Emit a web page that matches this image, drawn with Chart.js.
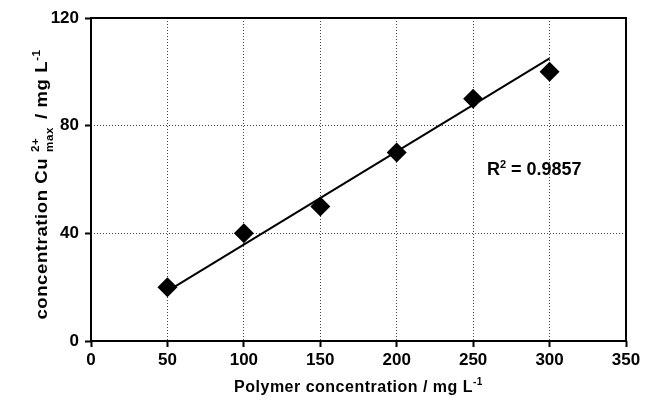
<!DOCTYPE html>
<html>
<head>
<meta charset="utf-8">
<script src="https://cdn.jsdelivr.net/npm/chart.js@4/dist/chart.umd.min.js"></script>
<style>
  html, body { margin: 0; padding: 0; background: #ffffff; }
  #wrap { width: 651px; height: 401px; }
</style>
</head>
<body>
<div id="wrap"><canvas id="cuChart" width="651" height="401"></canvas></div>
<script>
// ================================================================
//  DATA
// ================================================================
const polymerConc = [50, 100, 150, 200, 250, 300];   // mg L-1
const cuMax       = [20, 40, 50, 70, 90, 100];       // mg L-1
// linear trendline end points
const trendX = [50, 300];
const trendY = [18.5, 105];
const xTickValues = [0, 50, 100, 150, 200, 250, 300, 350];
const yTickValues = [0, 40, 80, 120];
const r2Text = '0.9857';

const FONT = "'Liberation Sans', Arial, Helvetica, sans-serif";

// ================================================================
//  DRAW HELPERS
// ================================================================
// draws a run of text pieces; dy shifts baseline (negative = up)
function drawRun(ctx, pieces, x, y) {
  let cx = x;
  pieces.forEach(p => {
    ctx.font = 'bold ' + p.size + 'px ' + FONT;
    if (p.stack) {
      // superscript and subscript stacked on the same x
      const w1 = ctx.measureText(p.sup).width, w2 = ctx.measureText(p.sub).width;
      ctx.fillText(p.sup, cx, y + p.supDy);
      ctx.fillText(p.sub, cx, y + p.subDy);
      cx += Math.max(w1, w2) + 2;
      return;
    }
    ctx.fillText(p.t, cx, y + (p.dy || 0));
    cx += ctx.measureText(p.t).width;
  });
  return cx - x;
}

function runWidth(ctx, pieces) {
  let w = 0;
  pieces.forEach(p => {
    ctx.font = 'bold ' + p.size + 'px ' + FONT;
    if (p.stack) w += Math.max(ctx.measureText(p.sup).width, ctx.measureText(p.sub).width) + 2;
    else w += ctx.measureText(p.t).width;
  });
  return w;
}

const xTitle = [
  { t: 'Polymer concentration / mg L', size: 16 },
  { t: '-1', size: 10, dy: -7 }
];
const yTitle = [
  { t: 'concentration Cu ', size: 16 },
  { stack: true, sup: '2+', sub: 'max', size: 10, supDy: -8, subDy: 6 },
  { t: ' / mg L', size: 16 },
  { t: '-1', size: 10, dy: -7 }
];
const r2Pieces = [
  { t: 'R', size: 18 },
  { t: '2', size: 11, dy: -7 },
  { t: ' = ' + r2Text, size: 18 }
];

const framePlugin = {
  id: 'frame',
  beforeDatasetsDraw(chart) {
    const { ctx, chartArea: a } = chart;
    ctx.save();
    ctx.strokeStyle = '#000000';
    ctx.lineWidth = 2;
    ctx.strokeRect(a.left, a.top, a.right - a.left, a.bottom - a.top);
    ctx.restore();
  },
  afterDraw(chart) {
    const { ctx, chartArea: a, scales } = chart;
    ctx.save();
    ctx.fillStyle = '#000000';
    ctx.textBaseline = 'alphabetic';
    ctx.textAlign = 'left';
    ctx.letterSpacing = '0.5px';

    // x title
    const wx = runWidth(ctx, xTitle);
    drawRun(ctx, xTitle, (a.left + a.right) / 2 - wx / 2, 392);

    // y title (rotated, a bit stretched along its length like the source)
    const wy = runWidth(ctx, yTitle);
    ctx.translate(47, (a.top + a.bottom) / 2 + 5);
    ctx.rotate(-Math.PI / 2);
    ctx.scale(1.16, 1);
    drawRun(ctx, yTitle, -wy / 2, 0);
    ctx.restore();

    // R² label
    ctx.save();
    ctx.fillStyle = '#000000';
    ctx.textBaseline = 'alphabetic';
    drawRun(ctx, r2Pieces, scales.x.getPixelForValue(259), scales.y.getPixelForValue(61.5));
    ctx.restore();
  }
};

// ================================================================
//  CHART
// ================================================================
const tickFont = { family: FONT, size: 17, weight: 'bold' };
const gridOpts = {
  color: '#444444', lineWidth: 1,
  tickColor: '#000000', tickLength: 6, tickWidth: 2, tickBorderDash: []
};

new Chart(document.getElementById('cuChart').getContext('2d'), {
  type: 'scatter',
  data: {
    datasets: [
      {
        label: 'Cu2+ max',
        data: polymerConc.map((x, i) => ({ x, y: cuMax[i] })),
        pointStyle: 'rectRot', pointRadius: 10, pointHoverRadius: 10,
        backgroundColor: '#000000', borderColor: '#000000', borderWidth: 0,
        showLine: false, order: 0
      },
      {
        label: 'trend',
        data: trendX.map((x, i) => ({ x, y: trendY[i] })),
        showLine: true, borderColor: '#000000', borderWidth: 2,
        pointRadius: 0, pointHoverRadius: 0, fill: false, order: 1
      }
    ]
  },
  options: {
    responsive: false, animation: false, maintainAspectRatio: false,
    layout: { padding: { left: 0, right: 25, top: 18, bottom: 0 } },
    plugins: { legend: { display: false }, tooltip: { enabled: false } },
    scales: {
      x: {
        type: 'linear', min: 0, max: 350,
        afterBuildTicks: s => { s.ticks = xTickValues.map(v => ({ value: v })); },
        afterFit: s => { s.height = 60; },
        ticks: { color: '#000000', font: tickFont, padding: 3, maxRotation: 0 },
        grid: gridOpts,
        border: { display: false, dash: [1, 2] }
      },
      y: {
        type: 'linear', min: 0, max: 120,
        afterBuildTicks: s => { s.ticks = yTickValues.map(v => ({ value: v })); },
        afterFit: s => { s.width = 91; },
        ticks: { color: '#000000', font: tickFont, padding: 6 },
        grid: gridOpts,
        border: { display: false, dash: [1, 2] }
      }
    }
  },
  plugins: [framePlugin]
});
</script>
</body>
</html>
